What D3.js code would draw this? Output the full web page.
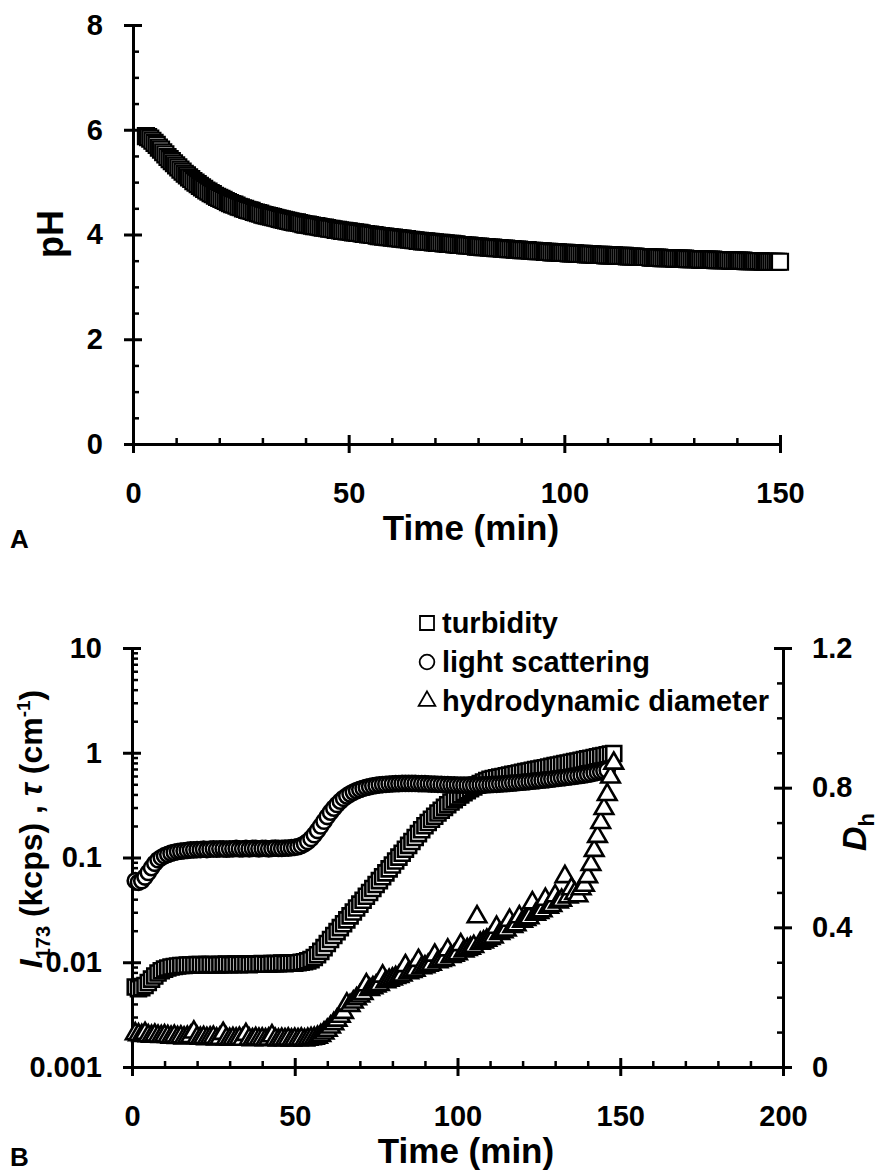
<!DOCTYPE html>
<html>
<head>
<meta charset="utf-8">
<script src="https://cdn.jsdelivr.net/npm/d3@7/dist/d3.min.js"></script>
<style>
  body { margin: 0; background: #fff; }
  svg text { font-family: "Liberation Sans", Arial, sans-serif; font-weight: bold; fill: #000; }
</style>
</head>
<body>
<svg id="chart" width="884" height="1171"></svg>
<script>
// ---- panel A : pH vs time, one reading every 30 s from 3 to 150 min
const phStart = 3
const phStep = 0.5
const phValues = [
  5.88, 5.86, 5.83, 5.79, 5.75, 5.71, 5.66, 5.62, 5.57, 5.53,
  5.48, 5.44, 5.40, 5.36, 5.32, 5.28, 5.24, 5.20, 5.16, 5.13,
  5.09, 5.06, 5.02, 4.99, 4.96, 4.93, 4.90, 4.87, 4.84, 4.82,
  4.79, 4.77, 4.74, 4.72, 4.70, 4.68, 4.66, 4.64, 4.62, 4.60,
  4.58, 4.57, 4.55, 4.53, 4.52, 4.50, 4.49, 4.47, 4.46, 4.45,
  4.43, 4.42, 4.41, 4.40, 4.38, 4.37, 4.36, 4.35, 4.34, 4.33,
  4.32, 4.31, 4.30, 4.29, 4.28, 4.27, 4.26, 4.25, 4.24, 4.23,
  4.23, 4.22, 4.21, 4.20, 4.19, 4.19, 4.18, 4.17, 4.16, 4.16,
  4.15, 4.14, 4.13, 4.13, 4.12, 4.11, 4.11, 4.10, 4.09, 4.09,
  4.08, 4.07, 4.07, 4.06, 4.06, 4.05, 4.04, 4.04, 4.03, 4.03,
  4.02, 4.01, 4.01, 4.00, 4.00, 3.99, 3.99, 3.98, 3.97, 3.97,
  3.96, 3.96, 3.95, 3.95, 3.94, 3.94, 3.93, 3.93, 3.92, 3.92,
  3.91, 3.91, 3.90, 3.90, 3.89, 3.89, 3.88, 3.88, 3.87, 3.87,
  3.87, 3.86, 3.86, 3.85, 3.85, 3.84, 3.84, 3.84, 3.83, 3.83,
  3.82, 3.82, 3.82, 3.81, 3.81, 3.80, 3.80, 3.80, 3.79, 3.79,
  3.79, 3.78, 3.78, 3.77, 3.77, 3.77, 3.76, 3.76, 3.76, 3.75,
  3.75, 3.75, 3.74, 3.74, 3.74, 3.73, 3.73, 3.73, 3.72, 3.72,
  3.72, 3.71, 3.71, 3.71, 3.70, 3.70, 3.70, 3.70, 3.69, 3.69,
  3.69, 3.68, 3.68, 3.68, 3.68, 3.67, 3.67, 3.67, 3.66, 3.66,
  3.66, 3.66, 3.65, 3.65, 3.65, 3.65, 3.64, 3.64, 3.64, 3.64,
  3.63, 3.63, 3.63, 3.63, 3.62, 3.62, 3.62, 3.62, 3.61, 3.61,
  3.61, 3.61, 3.61, 3.60, 3.60, 3.60, 3.60, 3.60, 3.59, 3.59,
  3.59, 3.59, 3.59, 3.58, 3.58, 3.58, 3.58, 3.58, 3.57, 3.57,
  3.57, 3.57, 3.57, 3.57, 3.56, 3.56, 3.56, 3.56, 3.56, 3.55,
  3.55, 3.55, 3.55, 3.55, 3.55, 3.54, 3.54, 3.54, 3.54, 3.54,
  3.54, 3.53, 3.53, 3.53, 3.53, 3.53, 3.53, 3.52, 3.52, 3.52,
  3.52, 3.52, 3.52, 3.52, 3.51, 3.51, 3.51, 3.51, 3.51, 3.51,
  3.51, 3.50, 3.50, 3.50, 3.50, 3.50, 3.50, 3.50, 3.49, 3.49,
  3.49, 3.49, 3.49, 3.49, 3.49, 3.49, 3.48, 3.48, 3.48, 3.48,
  3.48, 3.48, 3.48, 3.48, 3.48
]
const phTicks = [0, 2, 4, 6, 8]
const timeTicksA = [0, 50, 100, 150]

// ---- panel B : one reading per minute from t = 1 min
const bStart = 1
// turbidity tau (cm-1)
const turbidity = [
  0.0058, 0.0056, 0.0057, 0.0060, 0.0064, 0.0069, 0.0074, 0.0079, 0.0083, 0.0086,
  0.0088, 0.0090, 0.0091, 0.0092, 0.0093, 0.0093, 0.0094, 0.0094, 0.0094, 0.0095,
  0.0095, 0.0094, 0.0095, 0.0095, 0.0095, 0.0094, 0.0095, 0.0095, 0.0096, 0.0095,
  0.0095, 0.0096, 0.0095, 0.0096, 0.0096, 0.0095, 0.0096, 0.0096, 0.0096, 0.0097,
  0.0096, 0.0096, 0.0097, 0.0097, 0.0097, 0.0098, 0.0097, 0.0098, 0.0098, 0.0098,
  0.0099, 0.0100, 0.0101, 0.0103, 0.0106, 0.0111, 0.0118, 0.0127, 0.0138, 0.0151,
  0.0165, 0.0180, 0.0196, 0.0214, 0.0233, 0.0254, 0.0277, 0.0302, 0.0329, 0.0359,
  0.0391, 0.0426, 0.0464, 0.0506, 0.0552, 0.0601, 0.0655, 0.0714, 0.0779, 0.0849,
  0.0925, 0.1008, 0.1099, 0.1198, 0.1306, 0.1423, 0.1551, 0.1691, 0.1843, 0.2009,
  0.216, 0.232, 0.248, 0.266, 0.283, 0.301, 0.319, 0.339, 0.357, 0.377,
  0.396, 0.416, 0.434, 0.454, 0.472, 0.491, 0.508, 0.526, 0.542, 0.558,
  0.567, 0.576, 0.585, 0.594, 0.603, 0.612, 0.622, 0.631, 0.641, 0.650,
  0.660, 0.670, 0.680, 0.690, 0.700, 0.710, 0.720, 0.731, 0.742, 0.753,
  0.764, 0.775, 0.787, 0.799, 0.811, 0.823, 0.835, 0.848, 0.861, 0.874,
  0.887, 0.900, 0.914, 0.928, 0.942, 0.956, 0.970, 0.985
]
// light scattering I173 (kcps)
const scattering = [
  0.060, 0.058, 0.060, 0.065, 0.072, 0.080, 0.088, 0.095, 0.100, 0.104,
  0.107, 0.110, 0.112, 0.114, 0.115, 0.116, 0.117, 0.118, 0.118, 0.119,
  0.119, 0.120, 0.119, 0.120, 0.121, 0.120, 0.121, 0.121, 0.120, 0.121,
  0.121, 0.122, 0.121, 0.121, 0.122, 0.121, 0.122, 0.122, 0.121, 0.122,
  0.122, 0.121, 0.122, 0.123, 0.122, 0.122, 0.123, 0.123, 0.124, 0.125,
  0.127, 0.130, 0.135, 0.142, 0.152, 0.165, 0.181, 0.200, 0.222, 0.246,
  0.271, 0.296, 0.321, 0.345, 0.367, 0.387, 0.405, 0.421, 0.435, 0.447,
  0.458, 0.467, 0.475, 0.482, 0.488, 0.493, 0.497, 0.500, 0.503, 0.505,
  0.507, 0.508, 0.509, 0.510, 0.510, 0.510, 0.509, 0.508, 0.507, 0.506,
  0.505, 0.503, 0.502, 0.500, 0.498, 0.497, 0.495, 0.494, 0.493, 0.492,
  0.491, 0.490, 0.490, 0.490, 0.490, 0.491, 0.492, 0.493, 0.494, 0.496,
  0.498, 0.500, 0.502, 0.505, 0.508, 0.511, 0.514, 0.517, 0.520, 0.523,
  0.527, 0.531, 0.535, 0.539, 0.543, 0.547, 0.551, 0.555, 0.560, 0.565,
  0.570, 0.575, 0.580, 0.585, 0.590, 0.596, 0.602, 0.608, 0.615, 0.622,
  0.630, 0.640, 0.650, 0.660, 0.670, 0.680
]
// hydrodynamic diameter Dh (right axis)
const diameter = [
  0.095, 0.092, 0.090, 0.096, 0.089, 0.088, 0.091, 0.088, 0.087, 0.089,
  0.087, 0.085, 0.088, 0.084, 0.086, 0.083, 0.085, 0.087, 0.100, 0.084,
  0.082, 0.084, 0.081, 0.083, 0.085, 0.080, 0.082, 0.096, 0.081, 0.079,
  0.081, 0.080, 0.082, 0.079, 0.093, 0.080, 0.078, 0.081, 0.079, 0.080,
  0.078, 0.080, 0.089, 0.079, 0.077, 0.079, 0.078, 0.080, 0.077, 0.079,
  0.078, 0.080, 0.077, 0.079, 0.081, 0.082, 0.085, 0.090, 0.097, 0.105,
  0.114, 0.124, 0.134, 0.145, 0.156, 0.180, 0.176, 0.186, 0.195, 0.203,
  0.210, 0.235, 0.222, 0.227, 0.232, 0.236, 0.260, 0.244, 0.248, 0.252,
  0.256, 0.259, 0.263, 0.290, 0.270, 0.273, 0.277, 0.305, 0.284, 0.287,
  0.291, 0.294, 0.320, 0.301, 0.305, 0.308, 0.335, 0.316, 0.320, 0.324,
  0.350, 0.332, 0.336, 0.340, 0.345, 0.430, 0.354, 0.358, 0.363, 0.368,
  0.372, 0.400, 0.382, 0.387, 0.392, 0.420, 0.402, 0.407, 0.430, 0.417,
  0.422, 0.427, 0.470, 0.437, 0.442, 0.447, 0.480, 0.457, 0.462, 0.490,
  0.472, 0.477, 0.545, 0.487, 0.510, 0.497, 0.490, 0.510, 0.520, 0.545,
  0.580, 0.620, 0.660, 0.700, 0.740, 0.780, 0.830, 0.870
]
const logTicks = [0.001, 0.01, 0.1, 1, 10]
const logTickLabels = ["0.001", "0.01", "0.1", "1", "10"]
const dhTicks = [0, 0.4, 0.8, 1.2]
const timeTicksB = [0, 50, 100, 150, 200]
const legendLabels = ["turbidity", "light scattering", "hydrodynamic diameter"]

const svg = d3.select("#chart")
const tickFont = 29

// one axis: major ticks cross the line, minor ticks only on the inner side
function drawAxis(at, scale, orient, majors, minors, labels) {
  const outer = { left: d3.axisLeft, right: d3.axisRight, bottom: d3.axisBottom }[orient]
  const inner = { left: d3.axisRight, right: d3.axisLeft, bottom: d3.axisTop }[orient]
  const pad = { left: 21, right: 20, bottom: 29 }[orient]
  const g = svg.append("g").attr("transform", at)
  const gMin = g.append("g").call(inner(scale).tickValues(minors).tickSize(6).tickSizeOuter(0).tickFormat(""))
  gMin.select(".domain").remove()
  gMin.selectAll(".tick line").attr("stroke-width", 2.5)
  const gMaj = g.append("g").call(inner(scale).tickValues(majors).tickSize(9).tickSizeOuter(0).tickFormat(""))
  gMaj.select(".domain").remove()
  gMaj.selectAll(".tick line").attr("stroke-width", 3)
  const gOut = g.append("g").call(outer(scale)
      .tickValues(majors).tickSize(9).tickSizeOuter(0)
      .tickPadding(pad)
      .tickFormat((d, i) => labels[i]))
  gOut.select(".domain").attr("stroke-width", 3)
  gOut.selectAll(".tick line").attr("stroke-width", 3)
  gOut.selectAll(".tick text").style("font-size", tickFont + "px").attr("fill", "#000")
}

// ================= panel A
const xA = d3.scaleLinear().domain([0, 150]).range([133, 780])
const yA = d3.scaleLinear().domain([0, 8]).range([444, 25])

drawAxis("translate(133,0)", yA, "left", phTicks,
  d3.range(0, 8.01, 0.5).filter(v => v % 2 !== 0), phTicks.map(String))
drawAxis("translate(0,444)", xA, "bottom", timeTicksA,
  d3.range(0, 151, 10).filter(v => v % 50 !== 0), timeTicksA.map(String))

const squareA = d3.symbol().type(d3.symbolSquare).size(256)
svg.append("g").selectAll("path")
  .data(phValues)
  .join("path")
    .attr("d", squareA)
    .attr("transform", (d, i) => `translate(${xA(phStart + i * phStep)},${yA(d)})`)
    .attr("fill", "#fff")
    .attr("stroke", "#000")
    .attr("stroke-width", 2.2)

svg.append("text")
    .attr("transform", "translate(63,234) rotate(-90)")
    .attr("text-anchor", "middle")
    .style("font-size", "36px")
    .text("pH")
svg.append("text")
    .attr("x", 471).attr("y", 540)
    .attr("text-anchor", "middle")
    .style("font-size", "35px")
    .text("Time (min)")
svg.append("text")
    .attr("x", 10).attr("y", 548)
    .style("font-size", "26px")
    .text("A")

// ================= panel B
const xB = d3.scaleLinear().domain([0, 200]).range([132, 783])
const yB = d3.scaleLog().domain([0.001, 10]).range([1067, 648])
const yR = d3.scaleLinear().domain([0, 1.2]).range([1067, 648])

drawAxis("translate(132,0)", yB, "left", logTicks,
  yB.ticks().filter(v => !logTicks.some(t => Math.abs(t - v) < 1e-9)), logTickLabels)
drawAxis("translate(783,0)", yR, "right", dhTicks,
  [0.1, 0.2, 0.3, 0.5, 0.6, 0.7, 0.9, 1.0, 1.1], dhTicks.map(String))
drawAxis("translate(0,1067)", xB, "bottom", timeTicksB,
  d3.range(0, 201, 10).filter(v => v % 50 !== 0), timeTicksB.map(String))

const squareB = d3.symbol().type(d3.symbolSquare).size(225)
const circleB = d3.symbol().type(d3.symbolCircle).size(180)
const triangleB = d3.symbol().type(d3.symbolTriangle).size(150)

function drawSeries(values, sym, yScale) {
  svg.append("g").selectAll("path")
    .data(values)
    .join("path")
      .attr("d", sym)
      .attr("transform", (d, i) => `translate(${xB(bStart + i)},${yScale(d)})`)
      .attr("fill", "#fff")
      .attr("stroke", "#000")
      .attr("stroke-width", 2.6)
}
drawSeries(turbidity, squareB, yB)
drawSeries(scattering, circleB, yB)
drawSeries(diameter, triangleB, yR)

// legend
const legendSyms = [
  d3.symbol().type(d3.symbolSquare).size(196),
  d3.symbol().type(d3.symbolCircle).size(170),
  d3.symbol().type(d3.symbolTriangle).size(120)
]
const legendY = [633, 672, 711]
legendLabels.forEach((lab, i) => {
  svg.append("path")
      .attr("d", legendSyms[i])
      .attr("transform", `translate(427,${legendY[i] - 10})`)
      .attr("fill", "#fff").attr("stroke", "#000").attr("stroke-width", 1.8)
  svg.append("text")
      .attr("x", 442).attr("y", legendY[i])
      .style("font-size", "29px")
      .text(lab)
})

// left axis title: I173 (kcps) , tau (cm-1)
const leftTitle = svg.append("text")
    .attr("transform", "translate(42,829) rotate(-90)")
    .attr("text-anchor", "middle")
    .style("font-size", "32px")
leftTitle.append("tspan").style("font-style", "italic").text("I")
leftTitle.append("tspan").attr("dy", 8).style("font-size", "20px").text("173")
leftTitle.append("tspan").attr("dy", -8).text(" (kcps) , ")
leftTitle.append("tspan").style("font-style", "italic").text("τ")
leftTitle.append("tspan").text(" (cm")
leftTitle.append("tspan").attr("dy", -12).style("font-size", "19px").text("-1")
leftTitle.append("tspan").attr("dy", 12).text(")")

const rightTitle = svg.append("text")
    .attr("transform", "translate(866,832) rotate(-90)")
    .attr("text-anchor", "middle")
    .style("font-size", "34px")
rightTitle.append("tspan").style("font-style", "italic").text("D")
rightTitle.append("tspan").attr("dy", 8).style("font-size", "22px").text("h")

svg.append("text")
    .attr("x", 466).attr("y", 1163)
    .attr("text-anchor", "middle")
    .style("font-size", "35px")
    .text("Time (min)")
svg.append("text")
    .attr("x", 10).attr("y", 1166)
    .style("font-size", "26px")
    .text("B")
</script>
</body>
</html>
